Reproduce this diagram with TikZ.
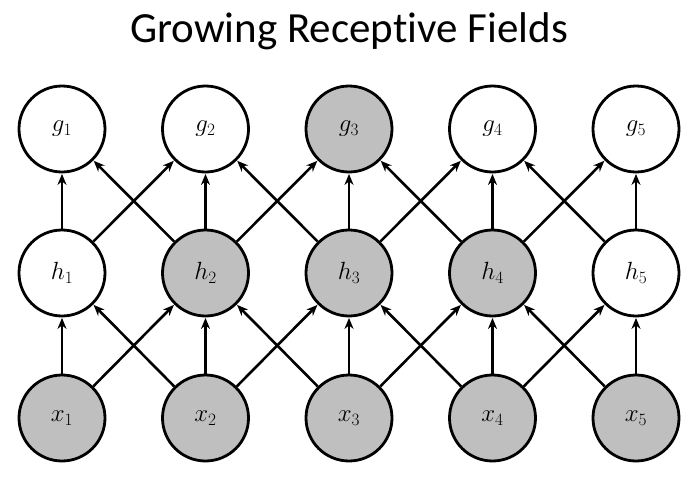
\documentclass[tikz,border=0pt]{standalone}
\usepackage{fontspec}
\newfontfamily\titlefont[RawFeature={-liga;-clig;-calt;-dlig}]{Carlito}
\usetikzlibrary{arrows.meta}
\tikzset{
  unit/.style={circle, draw=black, line width=2.8pt, minimum size=86pt, inner sep=0pt, fill=white, font=\fontsize{27}{30}\selectfont},
  shaded/.style={unit, fill=gray!50},
  conn/.style={line width=2.6pt, -{Stealth[length=11pt,width=9pt]}, shorten >=0.5pt}
}
\begin{document}
\begin{tikzpicture}[x=1pt,y=-1pt]
\useasboundingbox (0,0) rectangle (696,480);
\node[font=\titlefont\fontsize{43}{50}\selectfont] (title) at (349,31) {Growing Recept\kern0pt{}ive Fields};
% x row
\node[shaded] (x1) at (62,418) {$x_1$};
\node[shaded] (x2) at (205.5,418) {$x_2$};
\node[shaded] (x3) at (349,418) {$x_3$};
\node[shaded] (x4) at (492.5,418) {$x_4$};
\node[shaded] (x5) at (636,418) {$x_5$};
% h row
\node[unit] (h1) at (62,273) {$h_1$};
\node[shaded] (h2) at (205.5,273) {$h_2$};
\node[shaded] (h3) at (349,273) {$h_3$};
\node[shaded] (h4) at (492.5,273) {$h_4$};
\node[unit] (h5) at (636,273) {$h_5$};
% g row
\node[unit] (g1) at (62,129) {$g_1$};
\node[unit] (g2) at (205.5,129) {$g_2$};
\node[shaded] (g3) at (349,129) {$g_3$};
\node[unit] (g4) at (492.5,129) {$g_4$};
\node[unit] (g5) at (636,129) {$g_5$};
% edges
\foreach \lo/\hi in {x/h,h/g}{
  \foreach \i in {1,...,5}{
    \draw[conn] (\lo\i) -- (\hi\i);
  }
  \foreach \i/\j in {1/2,2/3,3/4,4/5}{
    \draw[conn] (\lo\i) -- (\hi\j);
    \draw[conn] (\lo\j) -- (\hi\i);
  }
}
\end{tikzpicture}
\end{document}
